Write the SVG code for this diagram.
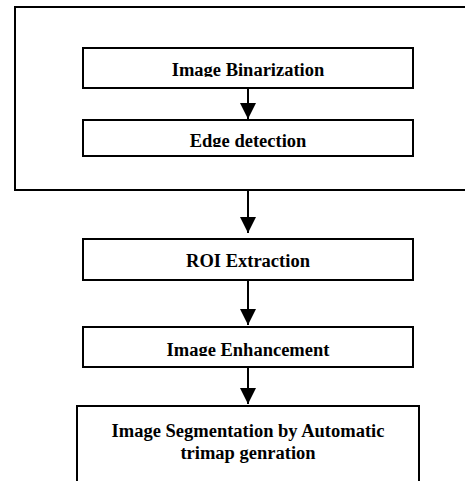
<svg xmlns="http://www.w3.org/2000/svg" width="465" height="481" viewBox="0 0 465 481">
  <style>
    .box { fill: #ffffff; stroke: #000000; stroke-width: 2; }
    .lbl { font-weight: bold; font-size: 18.5px; fill: #000000; text-anchor: middle; }
    .conn { stroke: #000000; stroke-width: 2; fill: none; marker-end: url(#arrow); }
  </style>
  <defs>
    <marker id="arrow" markerUnits="userSpaceOnUse" markerWidth="16" markerHeight="16" refX="16" refY="8" orient="auto" viewBox="0 0 16 16">
      <path d="M0,0 L16,8 L0,16 Z" fill="#000000"/>
    </marker>
    <clipPath id="clip1"><rect x="83" y="48" width="330" height="29"/></clipPath>
    <clipPath id="clip2"><rect x="83" y="120" width="330" height="27"/></clipPath>
    <clipPath id="clip4"><rect x="83" y="327" width="330" height="29"/></clipPath>
  </defs>
  <rect width="465" height="481" fill="#ffffff"/>
  <g id="group-preprocess">
    <rect class="box" x="15" y="7" width="460" height="183"/>
  </g>
  <g font-family="'Liberation Serif', 'DejaVu Serif', serif">
  <g id="node-binarization">
    <rect class="box" x="83" y="48" width="330" height="40"/>
    <text class="lbl" x="248" y="76" clip-path="url(#clip1)">Image Binarization</text>
  </g>
  <g id="node-edge">
    <rect class="box" x="83" y="120" width="330" height="36"/>
    <text class="lbl" x="248" y="147" clip-path="url(#clip2)">Edge detection</text>
  </g>
  <g id="node-roi">
    <rect class="box" x="83" y="239" width="330" height="41"/>
    <text class="lbl" x="248" y="267">ROI Extraction</text>
  </g>
  <g id="node-enhancement">
    <rect class="box" x="83" y="327" width="330" height="40"/>
    <text class="lbl" x="248" y="355.5" clip-path="url(#clip4)">Image Enhancement</text>
  </g>
  <g id="node-segmentation">
    <rect class="box" x="77" y="406" width="342" height="90"/>
    <text class="lbl" x="248" y="437">Image Segmentation by Automatic</text>
    <text class="lbl" x="248" y="459">trimap genration</text>
  </g>
  </g>
  <g id="connectors">
    <line class="conn" x1="248" y1="88" x2="248" y2="119"/>
    <line class="conn" x1="248" y1="190" x2="248" y2="233"/>
    <line class="conn" x1="248" y1="280" x2="248" y2="325"/>
    <line class="conn" x1="248" y1="367" x2="248" y2="404"/>
  </g>
</svg>
